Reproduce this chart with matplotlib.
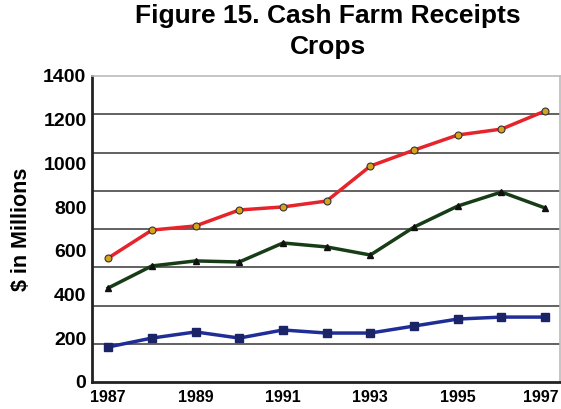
import numpy as np
import matplotlib.pyplot as plt
import matplotlib.transforms as mtrans

plt.rcParams['font.family'] = ['Liberation Sans', 'DejaVu Sans']
plt.rcParams['font.weight'] = 'bold'

years = [1987, 1988, 1989, 1990, 1991, 1992, 1993, 1994, 1995, 1996, 1997]
red_vals = [567, 695, 714, 787, 801, 828, 988, 1061, 1130, 1157, 1240]
green_vals = [430, 531, 554, 549, 636, 618, 581, 709, 805, 869, 796]
blue_vals = [160, 201, 229, 201, 238, 224, 224, 256, 288, 297, 297]
year_labels = ['1987', '1989', '1991', '1993', '1995', '1997']
y_labels = ['0', '200', '400', '600', '800', '1000', '1200', '1400']

fig = plt.figure(figsize=(5.61, 4.09), dpi=100)
ax = fig.add_axes([92/561, 1 - 382/409, (560-92)/561, (382-76)/409])

ax.plot(years, red_vals, '-', color='#e5242b', lw=2.5,
        marker='o', ms=5, mfc='#d9a21b', mec='#333333', mew=0.8, zorder=3)
ax.plot(years, green_vals, '-', color='#173d17', lw=2.5,
        marker='^', ms=5, mfc='#111111', mec='#111111', zorder=3)
ax.plot(years, blue_vals, '-', color='#1f2d96', lw=2.5,
        marker='s', ms=6, mfc='#1a2466', mec='#1a2466', zorder=3)

ax.set_xlim(1986.63, 1997.34)
ax.set_ylim(0, 1400)

ax.set_xticks([int(s) for s in year_labels])
ax.set_xticklabels(year_labels, fontsize=11.5, fontweight='bold')
ax.set_yticks(np.arange(0, 1401, 200))
ax.set_yticklabels(y_labels, fontsize=14, fontweight='bold')
# the scanned chart has gridlines at 1/8 of the range
ax.set_yticks(np.arange(175, 1400, 175), minor=True)
ax.grid(axis='y', which='minor', color='#555555', lw=1.3)
ax.tick_params(axis='both', which='both', length=0)
ax.tick_params(axis='y', pad=4)
ax.tick_params(axis='x', pad=6)

# nudge the last year label so it stays inside the figure
last = ax.get_xticklabels()[-1]
last.set_transform(last.get_transform() + mtrans.ScaledTranslation(-4/100, 0, fig.dpi_scale_trans))

for s in ['left', 'bottom']:
    ax.spines[s].set_color('#222222')
    ax.spines[s].set_linewidth(2)
for s in ['top', 'right']:
    ax.spines[s].set_color('#bbbbbb')
    ax.spines[s].set_linewidth(1.2)

ax.set_ylabel('$ in Millions', fontsize=15.5, fontweight='bold', labelpad=8)

fig.text(328/561, 1 - 16/409, 'Figure 15. Cash Farm Receipts', ha='center', va='center',
         fontsize=19, fontweight='bold')
fig.text(328/561, 1 - 47/409, 'Crops', ha='center', va='center',
         fontsize=19, fontweight='bold')

fig.savefig('out.png', dpi=100)
